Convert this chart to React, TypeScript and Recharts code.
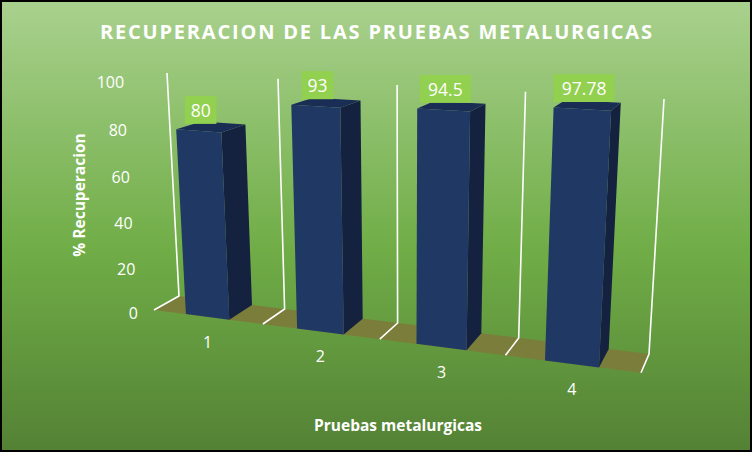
import React from "react";
import { BarChart, Bar, XAxis, YAxis, Customized } from "recharts";

const CATEGORIES = ["1", "2", "3", "4"];
const RECOVERY = [80, 93, 94.5, 97.78];
const VALUE_TICKS = [0, 20, 40, 60, 80, 100];

const TITLE = "RECUPERACION DE LAS PRUEBAS METALURGICAS";
const Y_TITLE = "% Recuperacion";
const X_TITLE = "Pruebas metalurgicas";

const rows = CATEGORIES.map((prueba, i) => ({ prueba, recuperacion: RECOVERY[i] }));

const W = 752;
const H = 452;
const AXIS_SIZE = 1; // axes keep a 1px slot so their ticks get drawn
const MARGIN = { top: 80, right: 100, bottom: 119, left: 149 };
// flat plot box that recharts lays the bars out in
const PLOT = {
  left: MARGIN.left + AXIS_SIZE,
  top: MARGIN.top,
  width: W - MARGIN.left - AXIS_SIZE - MARGIN.right,
  height: H - MARGIN.top - MARGIN.bottom - AXIS_SIZE,
};

const FONT = "'Open Sans', 'Noto Sans', sans-serif";

// perspective: back wall corners and front floor edge, in screen px
const BACK_WALL = { bl: [179, 296], br: [649, 354], tr: [664, 99], tl: [167, 73] };
const FRONT_EDGE = { left: [154, 310], right: [641, 373] };

function makeCamera() {
  const [x0, y0] = BACK_WALL.bl;
  const [x1, y1] = BACK_WALL.br;
  const [x2, y2] = BACK_WALL.tr;
  const [x3, y3] = BACK_WALL.tl;
  const dx1 = x1 - x2, dx2 = x3 - x2, dx3 = x0 - x1 + x2 - x3;
  const dy1 = y1 - y2, dy2 = y3 - y2, dy3 = y0 - y1 + y2 - y3;
  const den = dx1 * dy2 - dx2 * dy1;
  const g = (dx3 * dy2 - dx2 * dy3) / den;
  const h = (dx1 * dy3 - dx3 * dy1) / den;
  const a = x1 - x0 + g * x1;
  const b = x3 - x0 + h * x3;
  const d = y1 - y0 + g * y1;
  const e = y3 - y0 + h * y3;
  // front plane shares the u/v directions, only the origin column moves
  const [fx, fy] = FRONT_EDGE.left;
  const [rx] = FRONT_EDGE.right;
  const w = (a - rx * g) / (rx - fx);
  return (u: number, v: number, z: number): [number, number] => {
    const q = g * u + h * v + w + (1 - w) * z;
    return [
      (a * u + b * v + fx * w + (x0 - fx * w) * z) / q,
      (d * u + e * v + fy * w + (y0 - fy * w) * z) / q,
    ];
  };
}

const project = makeCamera();
const toU = (px: number) => (px - PLOT.left) / PLOT.width;
const toV = (py: number) => (PLOT.top + PLOT.height - py) / PLOT.height;
const pts = (list: number[][]) =>
  list.map(([u, v, z]) => project(u, v, z).map((n) => n.toFixed(1)).join(",")).join(" ");

function Column3D(props: any) {
  const { x, y, width, height } = props;
  const u0 = toU(x);
  const u1 = toU(x + width);
  const v0 = toV(y + height);
  const v1 = toV(y);
  return (
    <g>
      <polygon points={pts([[u1, v0, 0], [u1, v0, 1], [u1, v1, 1], [u1, v1, 0]])} fill="#14223f" />
      <polygon points={pts([[u0, v1, 0], [u1, v1, 0], [u1, v1, 1], [u0, v1, 1]])} fill="#1a2d54" />
      <polygon points={pts([[u0, v0, 0], [u1, v0, 0], [u1, v1, 0], [u0, v1, 0]])} fill="#203864" />
    </g>
  );
}

function ValueLabel(props: any) {
  const { x, y, width, value } = props;
  const [cx, cy] = project(toU(x + width / 2), toV(y), 0);
  const text = String(value);
  const boxW = text.length * 9.8 + 12;
  const boxH = 28;
  return (
    <g>
      <rect x={cx + 2 - boxW / 2} y={cy - 7 - boxH} width={boxW} height={boxH} fill="#92d050" />
      <text
        x={cx + 2}
        y={cy - 7 - boxH / 2}
        textAnchor="middle"
        dominantBaseline="central"
        fill="#ffffff"
        fontSize={17.5}
        fontFamily={FONT}
      >
        {text}
      </text>
    </g>
  );
}

function ValueTick(props: any) {
  const { y, payload } = props;
  const [tx, ty] = project(0, toV(y), 0);
  return (
    <text x={tx - 16} y={ty + 3} textAnchor="end" dominantBaseline="central" fill="#ffffff" fontSize={16} fontFamily={FONT}>
      {payload.value}
    </text>
  );
}

function CategoryTick(props: any) {
  const { x, payload } = props;
  const [tx, ty] = project(toU(x), 0, 0);
  return (
    <text x={tx} y={ty + 25} textAnchor="middle" dominantBaseline="central" fill="#ffffff" fontSize={16} fontFamily={FONT}>
      {payload.value}
    </text>
  );
}

// floor strip and the white category walls
function Floor() {
  const n = CATEGORIES.length;
  return (
    <g>
      <polygon points={pts([[0, 0, 0], [1, 0, 0], [1, 0, 1], [0, 0, 1]])} fill="#7b7e3b" />
      {CATEGORIES.concat([""]).map((_, i) => (
        <polyline
          key={i}
          points={pts([[i / n, 1, 1], [i / n, 0, 1], [i / n, 0, 0]])}
          fill="none"
          stroke="#ffffff"
          strokeWidth={1.6}
        />
      ))}
    </g>
  );
}

function Titles() {
  return (
    <g fill="#ffffff" fontFamily={FONT} fontWeight={700}>
      <text x={100} y={39} fontSize={20} textLength={552} lengthAdjust="spacing">
        {TITLE}
      </text>
      <text x={79} y={195} fontSize={15.5} textAnchor="middle" dominantBaseline="central" transform="rotate(-90 79 195)">
        {Y_TITLE}
      </text>
      <text x={398} y={425} fontSize={15.5} textAnchor="middle" dominantBaseline="central">
        {X_TITLE}
      </text>
    </g>
  );
}

export default function App() {
  return (
    <div
      style={{
        position: "absolute",
        left: 0,
        top: 0,
        width: W,
        height: H,
        boxSizing: "border-box",
        border: "2px solid #000",
        background: "linear-gradient(180deg, #a9d18e 0%, #70ad47 55%, #548235 100%)",
      }}
    >
      <div style={{ position: "absolute", left: -2, top: -2 }}>
        <BarChart width={W} height={H} data={rows} margin={MARGIN} barCategoryGap="30%">
          <Customized component={<Floor />} />
          <XAxis
            dataKey="prueba"
            height={AXIS_SIZE}
            axisLine={false}
            tickLine={false}
            interval={0}
            tick={<CategoryTick />}
          />
          <YAxis
            width={AXIS_SIZE}
            domain={[0, 100]}
            ticks={VALUE_TICKS}
            interval={0}
            axisLine={false}
            tickLine={false}
            tick={<ValueTick />}
          />
          <Bar
            dataKey="recuperacion"
            isAnimationActive={false}
            shape={<Column3D />}
            label={<ValueLabel />}
          />
          <Customized component={<Titles />} />
        </BarChart>
      </div>
    </div>
  );
}
